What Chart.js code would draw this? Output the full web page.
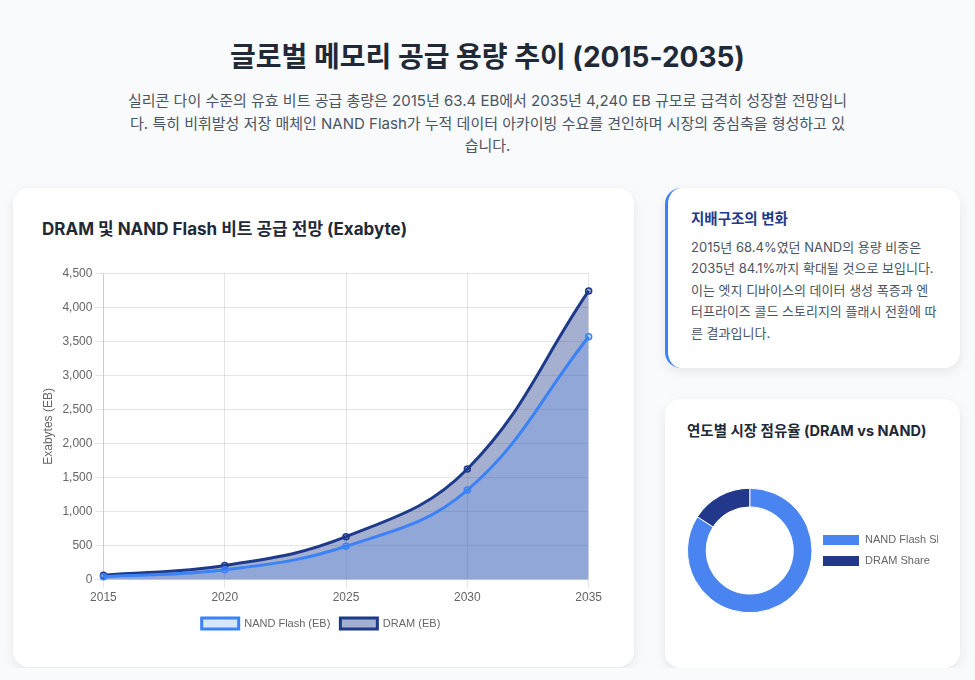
<!DOCTYPE html>
<html lang="ko">
<head>
  <meta charset="UTF-8">
  <title>글로벌 메모리 공급 용량 추이 (2015-2035)</title>
  <script src="https://cdn.jsdelivr.net/npm/chart.js"></script>
  <style>
    body {
      margin: 0;
      background: #f8fafc;
      font-family: "Inter", "Noto Sans CJK KR", sans-serif;
      color: #1f2937;
    }
    h1 {
      margin: 40px 0 0;
      font-size: 28px;
      line-height: 34px;
      text-align: center;
      font-weight: 700;
      color: #1f2937;
    }
    .lead {
      width: 724px;
      margin: 16px auto 0;
      font-size: 15px;
      line-height: 22.5px;
      text-align: center;
      color: #4b5563;
    }
    .layout {
      display: grid;
      grid-template-columns: 621px 295px;
      gap: 31px;
      margin: 30px 0 0 13px;
    }
    .card {
      background: #fff;
      border-radius: 16px;
      box-shadow: 0 4px 12px rgba(0, 0, 0, 0.08);
      box-sizing: border-box;
    }
    .main-card {
      height: 479px;
      padding: 28px 29px;
    }
    .main-card h2 {
      margin: 0;
      font-size: 17px;
      line-height: 26px;
      font-weight: 700;
    }
    .chart-box {
      position: relative;
      height: 376px;
      margin: 21px 0 0 -5px;
    }
    .side {
      display: flex;
      flex-direction: column;
      gap: 31px;
    }
    .note {
      height: 180px;
      padding: 21px 22px 0 23px;
      border-left: 3px solid #3b82f6;
    }
    .note h3 {
      margin: 0 0 8px;
      font-size: 14.5px;
      line-height: 20px;
      color: #1e3a8a;
    }
    .note p {
      margin: 0;
      font-size: 13px;
      line-height: 21.5px;
      color: #4b5563;
    }
    .share {
      height: 269px;
      padding: 21px 22px;
    }
    .share h3 {
      margin: 0;
      font-size: 14.5px;
      line-height: 22px;
    }
    .donut-box {
      position: relative;
      height: 189px;
      margin-top: 14px;
    }
  </style>
</head>
<body>

  <h1>글로벌 메모리 공급 용량 추이 (2015-2035)</h1>
  <p class="lead">실리콘 다이 수준의 유효 비트 공급 총량은 2015년 63.4 EB에서 2035년 4,240 EB 규모로 급격히 성장할 전망입니다. 특히 비휘발성 저장 매체인 NAND Flash가 누적 데이터 아카이빙 수요를 견인하며 시장의 중심축을 형성하고 있습니다.</p>

  <div class="layout">
    <div class="card main-card">
      <h2>DRAM 및 NAND Flash 비트 공급 전망 (Exabyte)</h2>
      <div class="chart-box"><canvas id="supplyChart"></canvas></div>
    </div>
    <div class="side">
      <div class="card note">
        <h3>지배구조의 변화</h3>
        <p>2015년 68.4%였던 NAND의 용량 비중은 2035년 84.1%까지 확대될 것으로 보입니다. 이는 엣지 디바이스의 데이터 생성 폭증과 엔터프라이즈 콜드 스토리지의 플래시 전환에 따른 결과입니다.</p>
      </div>
      <div class="card share">
        <h3>연도별 시장 점유율 (DRAM vs NAND)</h3>
        <div class="donut-box"><canvas id="shareChart"></canvas></div>
      </div>
    </div>
  </div>

  <script>
    // supply per year, EB (stacked: DRAM sits on top of NAND)
    const years = ['2015', '2020', '2025', '2030', '2035'];
    const nandEB = [43.4, 145, 490, 1315, 3566];
    const dramEB = [20.0, 62, 140, 310, 674];

    // 2035 share, %
    const shareLabels = ['NAND Flash Share', 'DRAM Share'];
    const shareValues = [84.1, 15.9];

    new Chart(document.getElementById('supplyChart'), {
      type: 'line',
      data: {
        labels: years,
        datasets: [
          {
            label: 'NAND Flash (EB)',
            data: nandEB,
            borderColor: '#3b82f6',
            backgroundColor: 'rgba(59, 130, 246, 0.2)',
            pointBackgroundColor: 'rgba(59, 130, 246, 0.2)',
            borderWidth: 3,
            fill: 'origin',
            tension: 0.4,
            pointRadius: 3,
            pointBorderWidth: 1.5
          },
          {
            label: 'DRAM (EB)',
            data: dramEB,
            borderColor: '#1e3a8a',
            backgroundColor: 'rgba(30, 58, 138, 0.4)',
            pointBackgroundColor: 'rgba(30, 58, 138, 0.4)',
            borderWidth: 3,
            fill: 'origin',
            tension: 0.4,
            pointRadius: 3,
            pointBorderWidth: 1.5
          }
        ]
      },
      options: {
        responsive: true,
        maintainAspectRatio: false,
        animation: false,
        scales: {
          y: {
            stacked: true,
            beginAtZero: true,
            max: 4500,
            ticks: { stepSize: 500 },
            title: { display: true, text: 'Exabytes (EB)' }
          },
          x: {}
        },
        plugins: {
          legend: {
            position: 'bottom',
            labels: { boxWidth: 37, font: { size: 11 } }
          }
        }
      }
    });

    new Chart(document.getElementById('shareChart'), {
      type: 'doughnut',
      data: {
        labels: shareLabels,
        datasets: [{
          data: shareValues,
          backgroundColor: ['#4a84f0', '#22388a'],
          borderColor: '#fff',
          borderWidth: 1
        }]
      },
      options: {
        responsive: true,
        maintainAspectRatio: false,
        animation: false,
        cutout: '70%',
        plugins: {
          legend: {
            position: 'right',
            labels: { boxWidth: 37, font: { size: 11 } }
          }
        }
      }
    });
  </script>

</body>
</html>
